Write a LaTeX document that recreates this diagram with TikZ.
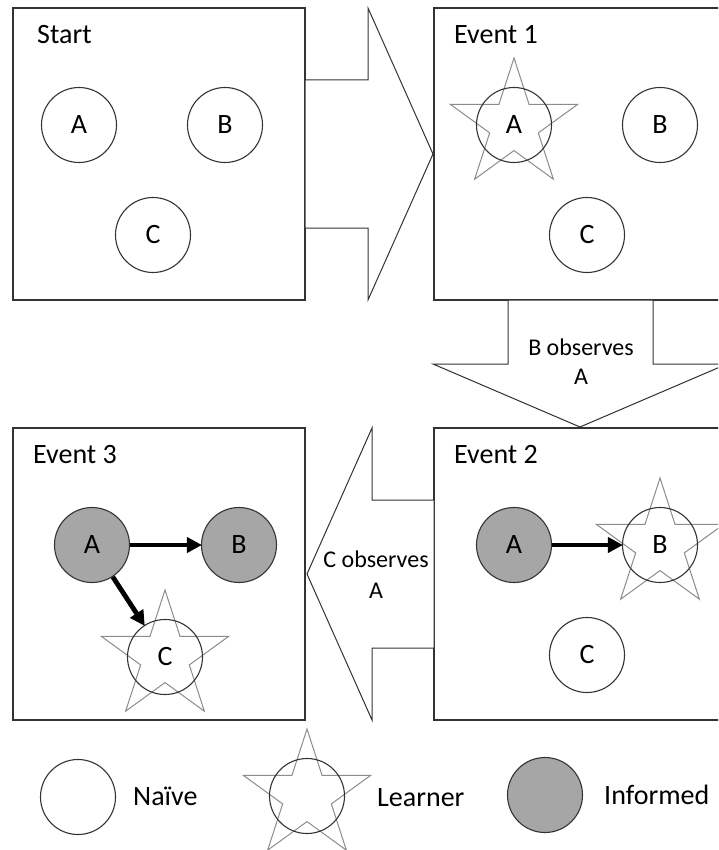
\documentclass[tikz,border=0pt]{standalone}
\usepackage{fontspec}
\setmainfont{Carlito}
\usetikzlibrary{shapes.geometric,arrows.meta}

\begin{document}
\begin{tikzpicture}[x=1pt,y=-1pt,
  panel/.style={draw=black!80,line width=1.1pt,fill=white},
  blockarrow/.style={draw=black!80,line width=1pt,fill=white,line join=miter},
  title/.style={anchor=base west,inner sep=0pt,font=\fontsize{28}{33}\selectfont},
  arrowlabel/.style={anchor=base,inner sep=0pt,font=\fontsize{24}{29}\selectfont},
  agent/.style={circle,draw=black!80,line width=1.1pt,minimum size=75pt,inner sep=0pt,
    font=\fontsize{28}{33}\selectfont},
  informed/.style={agent,fill=black!35},
  learnerstar/.style={star,star points=5,star point ratio=2.62,minimum size=134pt,
    inner sep=0pt,draw=black!45,line width=1pt},
  link/.style={line width=4.8pt,-{Triangle[length=15pt,width=15pt]},shorten >=-1pt}]

\useasboundingbox (0,0) rectangle (718,850);
\clip (0,0) rectangle (718,850);

% panels
\draw[panel] (13,8) rectangle (305,300);
\draw[panel] (434,8) rectangle (726,300);
\draw[panel] (434,428) rectangle (726,720);
\draw[panel] (13,428) rectangle (305,720);

% block arrows between the panels
\draw[blockarrow] (305,80) -- (368,80) -- (368,8) -- (433,154) -- (368,300)
  -- (368,228) -- (305,228) -- cycle;
\draw[blockarrow] (508,300) -- (653,300) -- (653,364) -- (727,364) -- (580,427)
  -- (433,364) -- (508,364) -- cycle;
\draw[blockarrow] (434,500) -- (372,500) -- (372,428) -- (307,574) -- (372,720)
  -- (372,648) -- (434,648) -- cycle;
\node[arrowlabel] (lblB1) at (581,355) {B observes};
\node[arrowlabel] (lblB2) at (581,384) {A};
\node[arrowlabel] (lblC1) at (376,567) {C observes};
\node[arrowlabel] (lblC2) at (376,598) {A};

% panel titles
\node[title] (tStart) at (37,44) {Start};
\node[title] (tEv1) at (454,44) {Event 1};
\node[title] (tEv2) at (454,463) {Event 2};
\node[title] (tEv3) at (33,463) {Event 3};

% Start
\node[agent] (sA) at (79,125) {A};
\node[agent] (sB) at (225,125) {B};
\node[agent] (sC) at (153,235) {C};

% Event 1
\node[learnerstar] (e1star) at (514,125) {};
\node[agent] (e1A) at (514,125) {A};
\node[agent] (e1B) at (660,125) {B};
\node[agent] (e1C) at (587,235) {C};

% Event 2
\node[informed] (e2A) at (514,545) {A};
\node[learnerstar] (e2star) at (660,545) {};
\node[agent] (e2B) at (660,545) {B};
\node[agent] (e2C) at (587,655) {C};
\draw[link] (e2A) -- (e2B);

% Event 3
\node[informed] (e3A) at (92,545) {A};
\node[informed] (e3B) at (239,545) {B};
\node[learnerstar] (e3star) at (165,657) {};
\node[agent] (e3C) at (165,657) {C};
\draw[link] (e3A) -- (e3B);
\draw[link] (e3A) -- (e3C);

% legend
\node[agent] (kNaive) at (78,797) {};
\node[title] (tNaive) at (133,805) {Naïve};
\node[learnerstar] (kstar) at (307,796) {};
\node[agent] (kLearner) at (307,796) {};
\node[title] (tLearner) at (377,806) {Learner};
\node[informed] (kInformed) at (545,795) {};
\node[title] (tInformed) at (604,804) {Informed};
\end{tikzpicture}
\end{document}
